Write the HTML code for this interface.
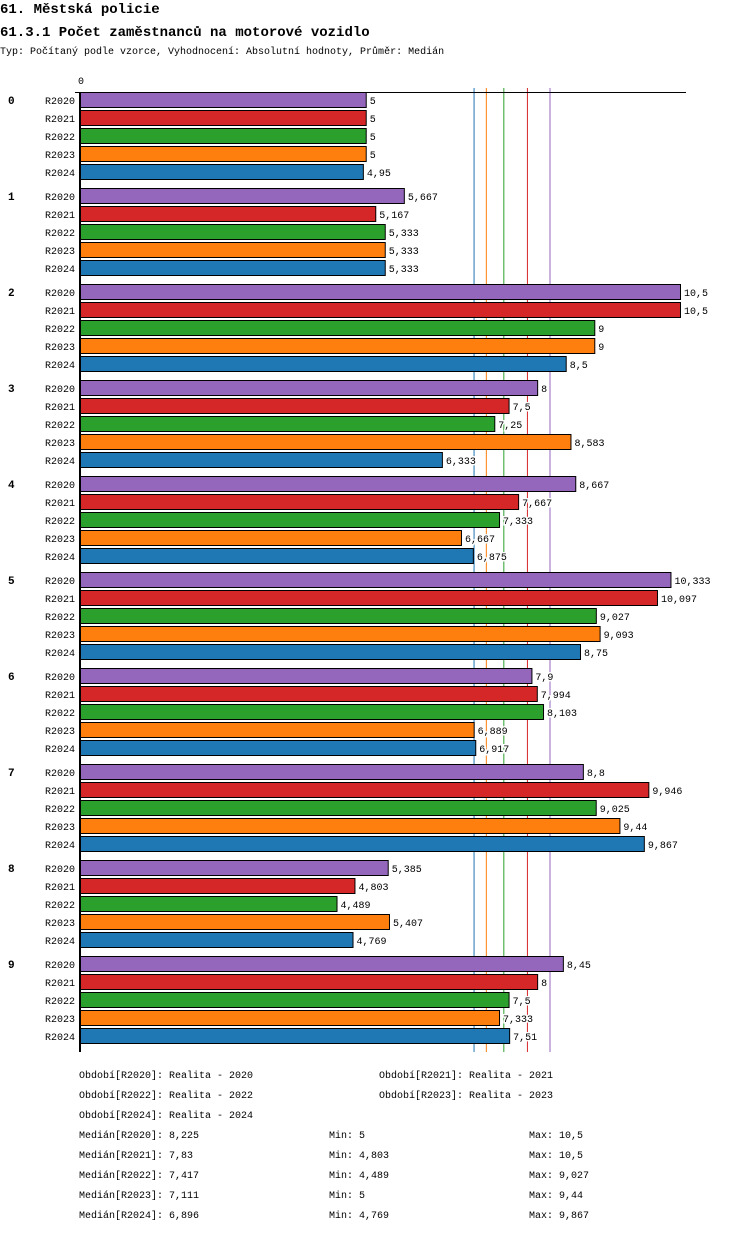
<!DOCTYPE html>
<html><head><meta charset="utf-8"><style>
body{margin:0;background:#fff;width:750px;height:1232px;overflow:hidden;font-family:"Liberation Mono",monospace;}
svg text{font-family:"Liberation Mono",monospace;}
.val{paint-order:stroke;stroke:#fff;stroke-width:3px;}
</style></head><body>
<svg id="chart" width="750" height="1232" xmlns="http://www.w3.org/2000/svg">
<text x="0" y="13" font-size="14" font-weight="bold">61. Městská policie</text>
<text x="0" y="36" font-size="14" font-weight="bold">61.3.1 Počet zaměstnanců na motorové vozidlo</text>
<text x="0" y="54" font-size="10">Typ: Počítaný podle vzorce, Vyhodnocení: Absolutní hodnoty, Průměr: Medián</text>
<g id="plot"></g>
<g id="legend"></g>
</svg>
<script>
const categories=["0","1","2","3","4","5","6","7","8","9"];
const seriesNames=["R2020","R2021","R2022","R2023","R2024"];
const seriesColors=["#9467bd","#d62728","#2ca02c","#ff7f0e","#1f77b4"];
const r2020=[5,5.667,10.5,8,8.667,10.333,7.9,8.8,5.385,8.45];
const r2021=[5,5.167,10.5,7.5,7.667,10.097,7.994,9.946,4.803,8];
const r2022=[5,5.333,9,7.25,7.333,9.027,8.103,9.025,4.489,7.5];
const r2023=[5,5.333,9,8.583,6.667,9.093,6.889,9.44,5.407,7.333];
const r2024=[4.95,5.333,8.5,6.333,6.875,8.75,6.917,9.867,4.769,7.51];
const medians=[8.225,7.83,7.417,7.111,6.896];
const mins=[5,4.803,4.489,5,4.769];
const maxs=[10.5,10.5,9.027,9.44,9.867];
const periods=["Realita - 2020","Realita - 2021","Realita - 2022","Realita - 2023","Realita - 2024"];
const series=[r2020,r2021,r2022,r2023,r2024];
const NS="http://www.w3.org/2000/svg";
const x0=80, pxPerUnit=600/10.5;
function xs(v){return x0+v*pxPerUnit;}
function ys(g,s){return 92+g*96+s*18;}
const fmt=v=>String(v).replace('.',',');
const plot=document.getElementById('plot');
function mk(tag,attrs,parent){const e=document.createElementNS(NS,tag);for(const k in attrs)e.setAttribute(k,attrs[k]);parent.appendChild(e);return e;}
for(let i=4;i>=0;i--){
 const l=mk('line',{x1:xs(medians[i]),x2:xs(medians[i]),y1:88,y2:1052,stroke:seriesColors[i],'stroke-width':1},plot);
 
 
}
const zl=mk('text',{x:78,y:84,'font-size':10},plot);zl.textContent='0';


const ax=mk('line',{x1:75,x2:686,y1:92.5,y2:92.5,stroke:'#000','stroke-width':1},plot);


categories.forEach((c,g)=>{
 const gl=mk('text',{x:8,y:ys(g,0)+12,'font-size':11,'font-weight':'bold'},plot);gl.textContent=c;
 
 
 series.forEach((arr,s)=>{
  const y=ys(g,s);
  const lb=mk('text',{x:75,y:y+12,'font-size':10,'text-anchor':'end'},plot);lb.textContent=seriesNames[s];
  
  
  const r=mk('rect',{x:x0+0.5,y:y+0.5,width:xs(arr[g])-x0,height:15,fill:seriesColors[s],stroke:'#000','stroke-width':1},plot);
  
  
  const vt=mk('text',{x:xs(arr[g])+4,y:y+12,'font-size':10,'class':'val'},plot);vt.textContent=fmt(arr[g]);
  
  
 });
});
const yax=mk('line',{x1:80,x2:80,y1:92,y2:1052,stroke:'#000','stroke-width':2},plot);


const lg=document.getElementById('legend');
function lt(x,y,t,n){const e=mk('text',{x:x,y:y,'font-size':10},lg);e.textContent=t;
 
 }
const pp=[[79,1078],[379,1078],[79,1098],[379,1098],[79,1118]];
periods.forEach((p,i)=>lt(pp[i][0],pp[i][1],'Období['+seriesNames[i]+']: '+p,'legend-period-'+seriesNames[i].toLowerCase()));
seriesNames.forEach((n,i)=>{
 const y=1138+i*20;
 lt(79,y,'Medián['+n+']: '+fmt(medians[i]),'legend-median-'+n.toLowerCase());
 lt(329,y,'Min: '+fmt(mins[i]),'legend-min-'+n.toLowerCase());
 lt(529,y,'Max: '+fmt(maxs[i]),'legend-max-'+n.toLowerCase());
});
</script>
</body></html>
